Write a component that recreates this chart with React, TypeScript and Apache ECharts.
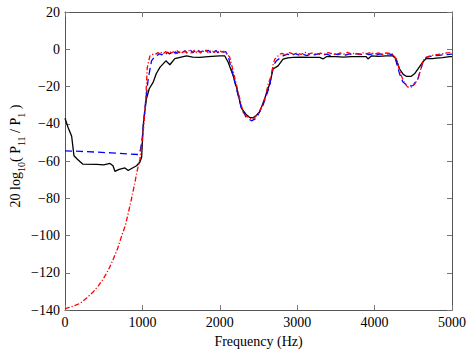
import React, { useEffect, useRef } from "react";
import * as echarts from "echarts";

const xTicks = [0, 1000, 2000, 3000, 4000, 5000];
const yTicks = [-140, -120, -100, -80, -60, -40, -20, 0, 20];

const blackX = [0, 40, 86, 116, 160, 228, 409, 500, 581, 620, 645, 700, 774, 817, 860, 925, 968, 990, 1011, 1050, 1088, 1140, 1180, 1226, 1303, 1355, 1419, 1500, 1570, 1650, 1742, 1850, 2000, 2065, 2108, 2172, 2215, 2280, 2340, 2387, 2430, 2470, 2516, 2581, 2645, 2688, 2753, 2817, 2880, 2946, 3050, 3150, 3290, 3333, 3376, 3500, 3600, 3700, 3800, 3892, 3914, 3957, 4050, 4150, 4237, 4280, 4323, 4370, 4409, 4473, 4520, 4559, 4624, 4667, 4750, 4796, 4880, 4968, 5000];
const blackY = [-37, -42, -46.7, -57.2, -59, -61.6, -61.8, -62, -61.3, -62.5, -65.5, -64.5, -63.7, -65.1, -64, -62.5, -60.5, -58, -40.5, -27, -21.2, -17.6, -13, -9.7, -6.2, -8.3, -5, -4.2, -3.6, -4.2, -4.4, -4, -3.6, -3.6, -7, -14.1, -20.3, -31.7, -35, -36.6, -36.8, -35.5, -33.5, -26.4, -18.5, -10.6, -8.9, -5.3, -4.6, -4.4, -4.2, -4.4, -4.4, -5.2, -4, -4, -4.2, -4, -4, -4, -5.2, -3.6, -3.8, -3.6, -3.6, -5.3, -10.6, -13.5, -14.5, -14.5, -13, -10.6, -6.7, -5, -5, -4.8, -4.5, -4, -4];

const blueX = [0, 200, 400, 600, 800, 946, 975, 1000, 1032, 1075, 1118, 1160, 1200, 1225, 1250, 1275, 1300, 1325, 1350, 1375, 1400, 1425, 1450, 1475, 1500, 1525, 1550, 1575, 1600, 1625, 1650, 1675, 1700, 1725, 1750, 1775, 1800, 1825, 1850, 1875, 1900, 1925, 1950, 1975, 2000, 2025, 2050, 2075, 2108, 2151, 2215, 2280, 2340, 2409, 2473, 2520, 2559, 2600, 2645, 2688, 2731, 2817, 2875, 2925, 2975, 3025, 3075, 3125, 3175, 3225, 3275, 3325, 3375, 3425, 3475, 3525, 3575, 3625, 3675, 3725, 3775, 3825, 3875, 3925, 3975, 4025, 4075, 4125, 4175, 4225, 4258, 4323, 4366, 4430, 4495, 4559, 4624, 4667, 4720, 4800, 4880, 4968, 5000];
const blueY = [-54.5, -54.8, -55.2, -55.6, -56.1, -56.5, -54, -47, -31.7, -15.9, -6.2, -3.8, -3.0, -2.4, -3.0, -2.0, -2.7, -1.6, -2.5, -1.8, -2.6, -1.4, -2.2, -1.2, -2.3, -1.5, -0.8, -2.1, -1.3, -0.6, -1.9, -1.0, -2.2, -0.7, -1.6, -0.9, -2.0, -1.1, -0.5, -1.7, -0.8, -1.5, -0.6, -1.9, -1.0, -0.7, -1.6, -1.2, -3.6, -10.6, -21.2, -31.7, -36.5, -38.4, -37, -33, -30, -25, -19.5, -8.9, -6.2, -3.6, -2.6, -3.3, -2.4, -3.1, -2.7, -3.4, -2.5, -3.0, -2.3, -3.2, -2.6, -3.3, -2.4, -2.9, -2.2, -3.1, -2.5, -3.0, -2.3, -2.8, -2.2, -2.9, -2.4, -3.0, -2.5, -3.1, -2.4, -2.9, -3.6, -13.2, -17.6, -19.7, -19.5, -15.9, -7, -4.4, -3.8, -3.4, -3.0, -2.7, -2.6];

const redX = [0, 21, 100, 194, 280, 366, 430, 495, 560, 624, 680, 731, 780, 817, 850, 882, 910, 933, 968, 1011, 1040, 1062, 1097, 1140, 1175, 1200, 1225, 1250, 1275, 1300, 1325, 1350, 1375, 1400, 1425, 1450, 1475, 1500, 1525, 1550, 1575, 1600, 1625, 1650, 1675, 1700, 1725, 1750, 1775, 1800, 1825, 1850, 1875, 1900, 1925, 1950, 1975, 2000, 2025, 2050, 2075, 2100, 2129, 2172, 2237, 2301, 2350, 2400, 2440, 2490, 2540, 2581, 2630, 2667, 2690, 2710, 2774, 2800, 2850, 2900, 2950, 3000, 3050, 3100, 3150, 3200, 3250, 3300, 3350, 3400, 3450, 3500, 3550, 3600, 3650, 3700, 3750, 3800, 3850, 3900, 3950, 4000, 4050, 4100, 4150, 4200, 4237, 4280, 4344, 4390, 4430, 4473, 4520, 4559, 4600, 4624, 4667, 4720, 4780, 4850, 4900, 4968, 5000];
const redY = [-139.5, -139, -138, -136.4, -133.5, -130.2, -127, -123.2, -118.5, -112.6, -107, -100.3, -94.5, -88, -82, -75.7, -70, -65.1, -59, -44, -30, -10, -3.6, -2.6, -2.5, -1.8, -2.6, -1.5, -2.2, -1.2, -2.4, -1.0, -2.0, -1.3, -2.5, -0.8, -1.9, -1.1, -2.3, -0.9, -1.7, -0.6, -2.0, -1.2, -0.5, -1.8, -1.0, -2.1, -0.7, -1.5, -0.4, -1.9, -1.0, -0.6, -1.8, -0.9, -1.6, -0.7, -1.5, -1.1, -1.8, -2.8, -4.4, -11.5, -22.9, -33.7, -36, -37.3, -37, -35, -31, -26.4, -18, -14.1, -8, -5.3, -2.7, -2.2, -3.0, -1.8, -2.6, -2.0, -2.8, -1.7, -2.5, -1.9, -2.9, -2.1, -2.6, -1.8, -2.4, -2.9, -2.0, -2.6, -1.7, -2.5, -2.0, -2.8, -1.9, -2.4, -1.8, -2.6, -2.0, -2.7, -1.9, -2.3, -2.6, -5.3, -14.1, -18.5, -20.3, -20.3, -18.5, -15.9, -10, -6.2, -4.4, -3.5, -3.0, -2.6, -2.2, -1.8, -1.6];

const zip = (xs: number[], ys: number[]) => xs.map((x, i) => [x, ys[i]]);

const FONT = "'Liberation Serif', 'Times New Roman', serif";
const minusFmt = (v: number) => String(v).replace("-", "\u2212");

export default function App() {
  const ref = useRef<HTMLDivElement>(null);
  useEffect(() => {
    if (!ref.current) return;
    const chart = echarts.init(ref.current, null, { renderer: "svg" });
    const axisCommon = {
      type: "value" as const,
      axisLine: { show: true, onZero: false, lineStyle: { color: "#555", width: 1 } },
      axisTick: { show: true, inside: true, length: 5, lineStyle: { color: "#777" } },
      splitLine: { show: false },
    };
    chart.setOption({
      animation: false,
      backgroundColor: "#fff",
      grid: { left: 65, right: 19, top: 12, bottom: 38, containLabel: false },
      xAxis: [
        {
          ...axisCommon,
          position: "bottom",
          min: xTicks[0],
          max: xTicks[xTicks.length - 1],
          interval: 1000,
          axisLabel: { color: "#000", fontFamily: FONT, fontSize: 14, margin: 5, formatter: (v: number) => String(v) },
          name: "Frequency (Hz)",
          nameLocation: "middle",
          nameGap: 20,
          nameTextStyle: { color: "#000", fontFamily: FONT, fontSize: 14 },
        },
        {
          ...axisCommon,
          position: "top",
          min: xTicks[0],
          max: xTicks[xTicks.length - 1],
          interval: 1000,
          axisLabel: { show: false },
        },
      ],
      yAxis: [
        {
          ...axisCommon,
          position: "left",
          min: yTicks[0],
          max: yTicks[yTicks.length - 1],
          interval: 20,
          axisLabel: { color: "#000", fontFamily: FONT, fontSize: 14, margin: 5, formatter: minusFmt },
        },
        {
          ...axisCommon,
          position: "right",
          min: yTicks[0],
          max: yTicks[yTicks.length - 1],
          interval: 20,
          axisLabel: { show: false },
        },
      ],
      graphic: [
        {
          type: "text",
          x: 15,
          y: 156,
          rotation: Math.PI / 2,
          style: {
            text: "{n|20 log}{s|10}{n|( P}{s|11}{n| / P}{s|1}{n| )}",
            align: "center",
            verticalAlign: "middle",
            fill: "#000",
            rich: {
              n: { fontFamily: FONT, fontSize: 14, lineHeight: 22, verticalAlign: "middle", fill: "#000" },
              s: { fontFamily: FONT, fontSize: 10, lineHeight: 10, verticalAlign: "bottom", fill: "#000" },
            },
          },
        },
      ],
      series: [
        {
          type: "line",
          data: zip(blackX, blackY),
          showSymbol: false,
          lineStyle: { color: "#000", width: 1.3 },
          z: 2,
        },
        {
          type: "line",
          data: zip(blueX, blueY),
          showSymbol: false,
          lineStyle: { color: "#0000ff", width: 1.3, type: [7, 4] },
          z: 3,
        },
        {
          type: "line",
          data: zip(redX, redY),
          showSymbol: false,
          lineStyle: { color: "#ff0000", width: 1.3, type: [5, 2, 1.2, 2] },
          z: 4,
        },
      ],
    });
    return () => chart.dispose();
  }, []);
  return <div ref={ref} style={{ width: 471, height: 353, position: "absolute", left: 0, top: 0 }} />;
}
